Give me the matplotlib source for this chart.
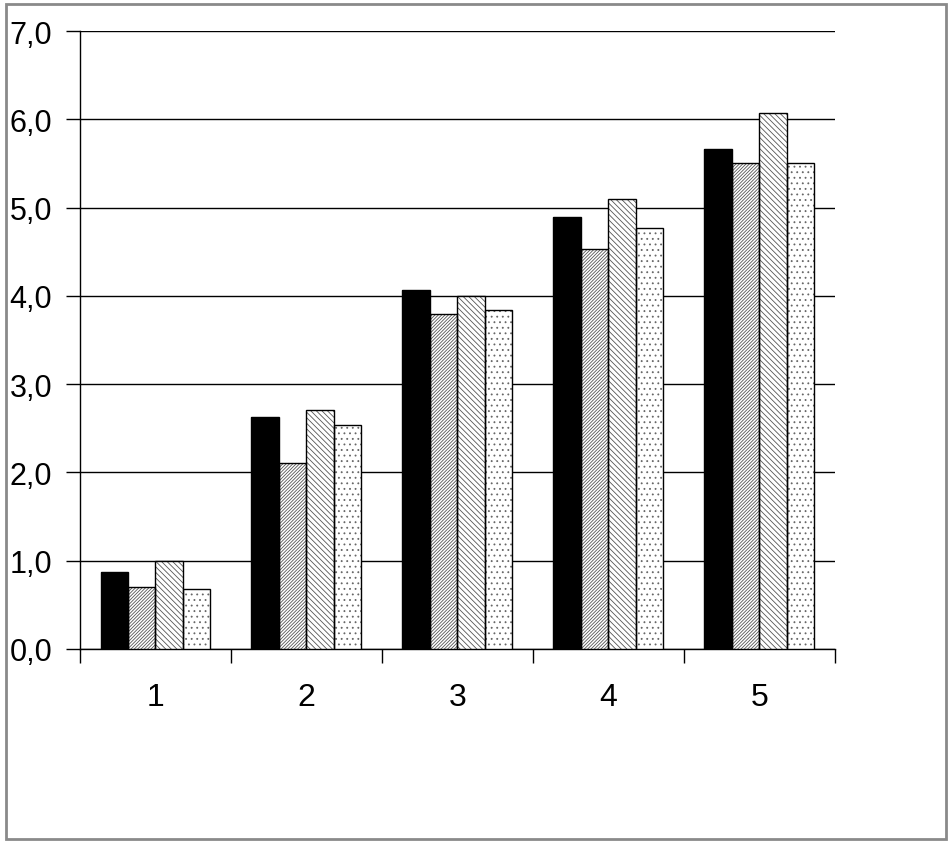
import numpy as np
import matplotlib
matplotlib.use('Agg')
import matplotlib.pyplot as plt
from matplotlib.patches import Rectangle
from matplotlib.ticker import FuncFormatter

### data
groups = ['1', '2', '3', '4', '5']
s1 = [0.87, 2.63, 4.07, 4.89, 5.66]
s2 = [0.70, 2.11, 3.79, 4.53, 5.50]
s3 = [1.00, 2.71, 4.00, 5.10, 6.07]
s4 = [0.68, 2.54, 3.84, 4.77, 5.50]
yticks = [0, 1, 2, 3, 4, 5, 6, 7]

plt.rcParams['font.family'] = ['Liberation Sans', 'DejaVu Sans']
plt.rcParams['hatch.linewidth'] = 0.6

fig = plt.figure(figsize=(9.52, 8.45), dpi=100)
fig.patches.append(Rectangle((0.006, 0.006), 0.988, 0.988, transform=fig.transFigure,
                             fill=False, edgecolor='#8a8a8a', linewidth=2))
ax = fig.add_axes([0.084, 0.2308, 0.793, 0.7313])

x = np.arange(len(groups))
w = 0.182
styles = [dict(color='black', hatch=None, ec='black'),
          dict(color='white', hatch='//////////', ec='#555555'),
          dict(color='white', hatch='\\\\\\\\\\\\', ec='#555555'),
          dict(color='white', hatch='...', ec='#666666')]
for i, (vals, st) in enumerate(zip([s1, s2, s3, s4], styles)):
    # hatched fill, then a black outline on top
    ax.bar(x + (i - 1.5) * w, vals, w, facecolor=st['color'], edgecolor=st['ec'],
           hatch=st['hatch'], linewidth=0, zorder=3)
    ax.bar(x + (i - 1.5) * w, vals, w, fill=False, edgecolor='black',
           linewidth=1, zorder=4)

ax.set_xlim(-0.5, 4.5)
ax.set_ylim(0, 7)
ax.set_yticks(yticks)
ax.yaxis.set_major_formatter(FuncFormatter(lambda v, p: ('%.1f' % v).replace('.', ',')))
ax.yaxis.grid(True, color='black', linewidth=1, zorder=0)
ax.set_xticks(x)
ax.set_xticklabels(groups)
ax.set_xticks(np.arange(-0.5, 5, 1), minor=True)
ax.tick_params(axis='x', which='major', length=0, pad=24, labelsize=23)
ax.tick_params(axis='x', which='minor', length=10, width=1, direction='out')
ax.tick_params(axis='y', length=10, width=1, direction='out', labelsize=22, pad=10)
for sp in ['top', 'right']:
    ax.spines[sp].set_visible(False)
ax.spines['left'].set_linewidth(1)
ax.spines['bottom'].set_linewidth(1)

plt.savefig('out.png', dpi=100)
